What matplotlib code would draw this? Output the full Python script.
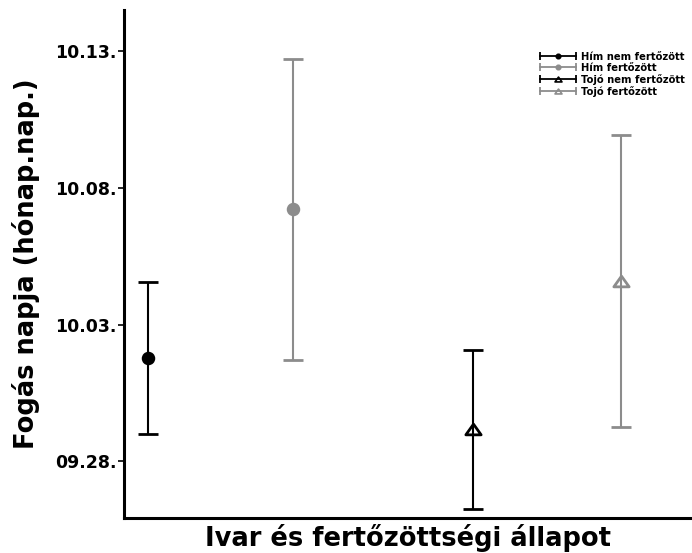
import matplotlib
matplotlib.use("Agg")
import matplotlib.pyplot as plt
from matplotlib.lines import Line2D
from matplotlib.path import Path
from matplotlib.legend_handler import HandlerLine2D, HandlerTuple

# napok 09.28-tól számolva
csoportok = ["Hím nem fertőzött", "Hím fertőzött", "Tojó nem fertőzött", "Tojó fertőzött"]
x_pos = [1.0, 2.0, 3.24, 4.26]
atlag = [3.79, 9.21, 1.17, 6.59]
hiba = [2.78, 5.50, 2.90, 5.33]
szinek = ["black", "#8c8c8c", "black", "#8c8c8c"]
nyitott = [False, False, True, True]
tick_ertekek = [0, 5, 10, 15]
tick_cimkek = ["09.28.", "10.03.", "10.08.", "10.13."]

# lapos háromszög marker
haromszog = Path([(-1, -0.7), (1, -0.7), (0, 0.7), (-1, -0.7)],
                 [Path.MOVETO, Path.LINETO, Path.LINETO, Path.CLOSEPOLY])

plt.rcParams["font.family"] = "DejaVu Sans"
plt.rcParams["font.weight"] = "bold"

fig = plt.figure(figsize=(6.92, 5.53), dpi=100)
ax = fig.add_axes([0.179, 0.063, 0.821, 0.919])

kezelok = []
kezelo_map = {}
for i in range(len(csoportok)):
    if nyitott[i]:
        mk, ms, mfc = haromszog, 11, "none"
    else:
        mk, ms, mfc = "o", 7.7, szinek[i]
    ax.errorbar(x_pos[i], atlag[i], yerr=hiba[i], color=szinek[i],
                marker=mk, markersize=ms, markerfacecolor=mfc,
                markeredgecolor=szinek[i], markeredgewidth=2,
                elinewidth=1.5, capsize=7.5, capthick=1.5, zorder=3)

    # jelmagyarázat: vízszintes hibasáv a jellel középen
    vonal = Line2D([], [], color=szinek[i], lw=1.3, marker="|",
                   markersize=6, markeredgewidth=1.3)
    jel = Line2D([], [], linestyle="none", color=szinek[i], marker=mk,
                 markersize=5 if nyitott[i] else 3.2, markerfacecolor=mfc,
                 markeredgecolor=szinek[i], markeredgewidth=1.2)
    kezelo_map[vonal] = HandlerLine2D(numpoints=2, marker_pad=0)
    kezelo_map[jel] = HandlerLine2D(numpoints=1)
    kezelok.append((vonal, jel))

kezelo_map[tuple] = HandlerTuple(ndivide=1)

ax.set_xlim(0.834, 4.75)
ax.set_ylim(-2.08, 16.5)
ax.set_yticks(tick_ertekek)
ax.set_yticklabels(tick_cimkek, fontsize=12.5, fontweight="bold")
ax.set_xticks([])
ax.tick_params(axis="y", length=4, width=1.2, pad=1)

ax.spines["top"].set_visible(False)
ax.spines["right"].set_visible(False)
ax.spines["left"].set_linewidth(2.2)
ax.spines["bottom"].set_linewidth(2.2)

ax.set_ylabel("Fogás napja (hónap.nap.)", fontsize=18.5, fontweight="bold")
ax.yaxis.set_label_coords(-0.148, 0.5)
ax.set_xlabel("Ivar és fertőzöttségi állapot", fontsize=18.5, fontweight="bold", labelpad=4)

ax.legend(kezelok, csoportok, handler_map=kezelo_map,
          loc="upper left", bbox_to_anchor=(0.732, 0.918), frameon=False,
          prop={"size": 7.2, "weight": "bold"}, handlelength=3.6,
          handletextpad=0.5, labelspacing=0.1, borderpad=0, borderaxespad=0)

fig.savefig("out.png", dpi=100)
